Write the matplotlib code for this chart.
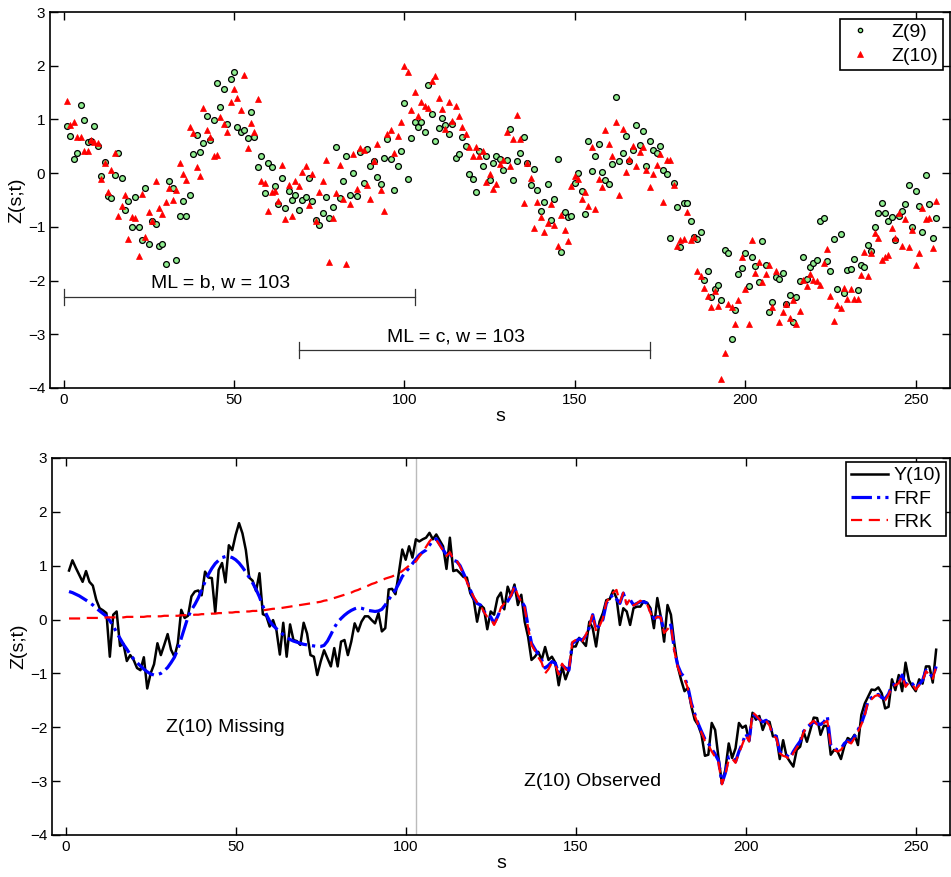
import numpy as np
import matplotlib
matplotlib.use("Agg")
import matplotlib.pyplot as plt

plt.rcParams['font.family'] = ['Liberation Sans', 'DejaVu Sans']

s = np.arange(1, 257)

z9 = [0.88, 0.70, 0.27, 0.37, 1.27, 0.99, 0.58, 0.60, 0.88, 0.51,
      -0.06, 0.21, -0.42, -0.47, -0.03, 0.38, -0.09, -0.69, -0.51, -1.00,
      -0.45, -1.00, -1.25, -0.28, -1.31, -0.90, -0.94, -1.35, -1.32, -1.69,
      -0.15, -0.28, -1.62, -0.80, -0.52, -0.79, -0.41, 0.36, 0.71, 0.39,
      0.56, 1.07, 0.61, 0.99, 1.68, 1.23, 1.57, 0.91, 1.75, 1.89,
      0.85, 0.77, 0.80, 0.66, 1.14, 0.68, 0.11, 0.32, -0.37, 0.18,
      0.12, -0.24, -0.58, -0.09, -0.64, -0.33, -0.50, -0.40, -0.69, -0.50,
      -0.45, -0.09, -0.51, -0.87, -0.97, -0.74, -0.44, -0.84, -0.63, 0.49,
      -0.46, -0.14, 0.31, -0.41, 0.00, -0.42, 0.39, -0.19, 0.45, 0.13,
      0.22, -0.07, -0.20, 0.29, 0.63, 0.26, -0.31, 0.14, 0.42, 1.31,
      -0.11, 0.66, 0.96, 0.85, 0.95, 0.77, 1.64, 1.10, 0.59, 0.84,
      1.03, 0.90, 0.73, 0.91, 0.29, 0.35, 0.68, 0.50, -0.01, -0.10,
      -0.35, 0.42, 0.13, 0.31, -0.12, 0.18, 0.31, 0.26, 0.05, 0.24,
      0.83, -0.12, 0.23, 0.37, 0.68, 0.18, -0.23, 0.08, -0.31, -0.71,
      -0.54, -0.21, -0.87, -0.49, 0.26, -1.47, -0.73, -0.82, -0.79, -0.19,
      0.00, -0.33, -0.76, 0.60, 0.04, 0.31, 0.55, 0.02, -0.12, -0.21,
      0.17, 1.42, 0.23, 0.37, 0.70, 0.22, 0.43, 0.90, 0.52, 0.78,
      0.14, 0.60, 0.43, 0.38, 0.51, 0.05, -0.02, -1.21, -0.19, -0.63,
      -1.37, -0.56, -0.56, -0.89, -1.18, -1.23, -1.10, -1.99, -1.82, -2.30,
      -2.15, -2.08, -2.36, -1.43, -1.48, -3.08, -2.55, -1.87, -1.77, -1.49,
      -2.10, -1.57, -1.72, -2.03, -1.26, -1.71, -2.59, -2.40, -1.94, -1.98,
      -1.85, -2.44, -2.27, -2.77, -2.31, -2.01, -1.56, -1.97, -1.75, -1.68,
      -1.61, -0.90, -0.83, -1.64, -1.82, -1.23, -2.15, -1.13, -2.24, -1.81,
      -1.79, -1.60, -2.18, -1.71, -1.74, -1.34, -1.45, -1.00, -0.74, -0.56,
      -0.74, -0.90, -0.82, -1.25, -0.80, -0.70, -0.58, -0.23, -1.00, -0.33,
      -0.61, -1.10, -0.03, -0.57, -1.21, -0.83]

z10 = [1.35, 0.89, 0.96, 0.68, 0.68, 0.41, 0.42, 0.62, 0.58, 0.56,
       -0.10, 0.18, -0.35, 0.06, 0.37, -0.80, -0.62, -0.40, -1.23, -0.82,
       -0.84, -1.54, -0.38, -1.19, -0.73, -0.89, -0.15, -0.65, -0.76, -0.53,
       -0.28, -0.50, -0.32, 0.19, -0.01, -0.12, 0.86, 0.75, 0.12, -0.05,
       1.21, 0.80, 0.67, 0.32, 0.34, 1.05, 0.91, 0.76, 1.33, 1.56,
       1.40, 1.17, 1.83, 0.47, 0.93, 0.77, 1.38, -0.15, -0.19, -0.70,
       -0.36, -0.34, -0.51, 0.15, -0.86, -0.23, -0.79, -0.15, -0.24, 0.03,
       0.14, -0.59, -0.01, -0.90, -0.35, -0.15, 0.25, -1.66, -0.83, -0.37,
       0.16, -0.49, -1.70, -0.58, 0.35, -0.30, 0.47, 0.43, -0.22, -0.49,
       0.22, 0.55, -0.31, -0.70, 0.72, 0.80, 0.38, 0.69, 0.95, 1.99,
       1.89, 1.17, 1.52, 1.06, 1.32, 1.25, 1.21, 1.72, 1.81, 1.39,
       1.20, 0.82, 1.33, 0.97, 1.25, 1.06, 0.86, 0.73, 0.49, 0.31,
       0.48, 0.31, 0.42, -0.16, -0.01, -0.30, -0.21, 0.17, 0.25, 0.76,
       0.13, 0.63, 1.09, 0.63, -0.56, 0.19, -0.09, -1.03, -0.53, -0.81,
       -1.09, -0.92, -0.57, -0.97, -1.35, -0.77, -1.05, -1.27, -0.24, -0.06,
       -0.11, -0.49, -0.36, -0.61, 0.48, -0.67, -0.10, -0.26, 0.81, 0.54,
       0.32, 0.96, -0.41, 0.82, 0.03, 0.27, 0.50, 0.13, 0.40, 0.49,
       0.06, -0.25, -0.02, 0.16, 0.36, -0.54, 0.24, 0.24, -0.22, -1.35,
       -1.25, -1.23, -0.72, -1.25, -1.18, -1.82, -1.92, -2.13, -2.28, -2.49,
       -2.20, -2.47, -3.83, -3.34, -2.44, -2.49, -2.80, -2.36, -1.56, -2.15,
       -2.80, -1.25, -1.85, -1.65, -2.03, -1.88, -1.71, -2.49, -1.82, -2.77,
       -2.58, -2.44, -2.69, -2.36, -2.80, -2.56, -1.99, -2.10, -1.88, -1.99,
       -2.00, -2.08, -1.68, -1.42, -2.29, -2.75, -2.46, -2.52, -2.13, -2.35,
       -2.15, -2.35, -2.34, -1.90, -1.46, -1.92, -1.49, -1.12, -1.20, -1.62,
       -1.57, -1.53, -1.02, -1.21, -0.74, -1.36, -0.85, -1.38, -1.05, -1.71,
       -1.49, -0.64, -0.85, -0.84, -1.40, -0.51]

y10 = [0.91, 1.10, 0.96, 0.83, 0.70, 0.90, 0.70, 0.63, 0.37, 0.21,
       0.17, 0.12, -0.69, 0.09, 0.15, -0.49, -0.45, -0.77, -0.66, -0.75,
       -0.90, -0.94, -0.70, -1.28, -1.00, -0.83, -0.44, -0.66, -0.47, -0.27,
       -0.56, -0.69, -0.44, 0.18, 0.03, 0.07, 0.43, 0.52, 0.54, 0.45,
       0.89, 0.78, 0.77, 0.13, 0.92, 1.05, 0.69, 1.38, 1.29, 1.57,
       1.79, 1.60, 1.29, 0.78, 0.72, 0.53, 0.86, 0.10, 0.07, -0.13,
       -0.01, -0.20, -0.65, -0.06, -0.69, -0.09, -0.38, -0.40, -0.47, -0.06,
       -0.26, -0.66, -0.69, -1.03, -0.78, -0.57, -0.72, -0.87, -0.53, -0.87,
       -0.41, -0.38, -0.66, -0.41, -0.07, -0.22, -0.04, 0.06, 0.06, -0.01,
       -0.07, 0.12, -0.22, -0.16, 0.56, 0.57, 0.47, 0.87, 1.30, 1.11,
       1.36, 1.15, 1.49, 1.45, 1.49, 1.52, 1.61, 1.49, 1.58, 1.47,
       1.36, 0.94, 1.52, 0.90, 0.92, 0.86, 0.79, 0.78, 0.49, 0.37,
       -0.04, 0.27, 0.21, -0.18, 0.15, 0.09, 0.40, 0.50, 0.19, 0.61,
       0.44, 0.65, 0.27, 0.46, -0.04, -0.32, -0.75, -0.69, -0.60, -0.75,
       -0.51, -0.75, -0.69, -0.80, -1.22, -0.87, -1.11, -0.93, -0.50, -0.50,
       -0.34, -0.41, -0.49, -0.04, -0.16, -0.50, -0.04, 0.12, 0.36, 0.38,
       0.54, 0.40, -0.10, 0.21, 0.15, -0.10, 0.21, 0.24, 0.24, 0.34,
       0.31, 0.21, -0.16, 0.40, 0.06, -0.41, 0.27, 0.09, -0.44, -0.87,
       -1.12, -1.33, -1.27, -1.61, -1.86, -1.96, -2.14, -2.53, -2.51, -1.92,
       -2.05, -2.57, -3.04, -2.79, -2.30, -2.57, -2.39, -1.92, -2.01, -1.97,
       -2.26, -1.73, -1.86, -1.79, -2.05, -1.88, -1.90, -2.17, -2.16, -2.59,
       -2.24, -2.54, -2.64, -2.73, -2.42, -2.36, -2.08, -2.27, -2.05, -1.82,
       -1.83, -2.14, -1.97, -1.98, -2.51, -2.42, -2.45, -2.59, -2.35, -2.20,
       -2.24, -2.14, -2.33, -1.77, -1.56, -1.43, -1.30, -1.31, -1.26, -1.37,
       -1.65, -1.62, -1.11, -1.31, -1.03, -1.33, -0.80, -1.13, -1.24, -1.33,
       -1.11, -1.19, -0.87, -0.87, -1.17, -0.56]

frf = [0.52, 0.50, 0.47, 0.44, 0.40, 0.36, 0.32, 0.27, 0.21, 0.16,
       0.11, 0.06, -0.02, -0.12, -0.24, -0.35, -0.46, -0.55, -0.65, -0.73,
       -0.80, -0.86, -0.92, -0.97, -1.01, -1.03, -1.02, -1.00, -0.95, -0.89,
       -0.80, -0.70, -0.55, -0.35, -0.15, 0.05, 0.18, 0.28, 0.40, 0.55,
       0.70, 0.84, 0.95, 1.04, 1.10, 1.15, 1.17, 1.17, 1.15, 1.11,
       1.05, 0.97, 0.88, 0.78, 0.68, 0.56, 0.42, 0.25, 0.10, -0.03,
       -0.11, -0.17, -0.22, -0.28, -0.33, -0.37, -0.40, -0.42, -0.44, -0.46,
       -0.47, -0.48, -0.49, -0.50, -0.50, -0.48, -0.40, -0.28, -0.15, -0.05,
       0.02, 0.08, 0.13, 0.17, 0.20, 0.22, 0.21, 0.19, 0.17, 0.16,
       0.15, 0.16, 0.19, 0.27, 0.37, 0.46, 0.55, 0.67, 0.80, 0.88,
       0.96, 1.04, 1.12, 1.20, 1.25, 1.29, 1.38, 1.47, 1.50, 1.40,
       1.30, 1.20, 1.23, 1.10, 1.08, 1.00, 0.86, 0.72, 0.55, 0.40,
       0.30, 0.27, 0.15, 0.08, 0.05, -0.07, 0.05, 0.20, 0.28, 0.34,
       0.45, 0.59, 0.43, 0.35, 0.24, -0.13, -0.44, -0.55, -0.65, -0.75,
       -0.90, -0.85, -0.78, -0.81, -1.00, -0.85, -0.90, -0.94, -0.44, -0.40,
       -0.36, -0.38, -0.30, -0.15, 0.09, -0.19, -0.10, 0.00, 0.30, 0.40,
       0.46, 0.38, 0.30, 0.49, 0.30, 0.37, 0.27, 0.30, 0.33, 0.33,
       0.30, 0.15, 0.02, 0.05, 0.05, -0.23, -0.15, -0.10, -0.55, -0.85,
       -1.00, -1.07, -1.25, -1.55, -1.75, -1.93, -2.08, -2.22, -2.30, -2.40,
       -2.50, -2.62, -3.04, -2.85, -2.55, -2.55, -2.64, -2.45, -2.30, -2.12,
       -2.24, -1.75, -1.80, -1.85, -1.90, -1.87, -1.95, -2.14, -2.17, -2.45,
       -2.51, -2.52, -2.57, -2.45, -2.35, -2.26, -2.08, -2.00, -1.95, -1.90,
       -1.93, -1.95, -1.90, -1.80, -2.33, -2.39, -2.42, -2.40, -2.30, -2.25,
       -2.27, -2.17, -2.05, -1.93, -1.75, -1.50, -1.45, -1.41, -1.39, -1.45,
       -1.47, -1.38, -1.22, -1.20, -1.16, -1.03, -1.22, -1.15, -1.19, -1.28,
       -1.20, -1.13, -0.94, -1.00, -1.07, -0.87]

frk = [0.02, 0.02, 0.02, 0.02, 0.02, 0.03, 0.03, 0.03, 0.03, 0.03,
       0.03, 0.04, 0.04, 0.04, 0.04, 0.04, 0.04, 0.05, 0.05, 0.05,
       0.05, 0.05, 0.05, 0.06, 0.06, 0.06, 0.06, 0.06, 0.07, 0.07,
       0.07, 0.07, 0.07, 0.08, 0.08, 0.08, 0.08, 0.09, 0.09, 0.10,
       0.10, 0.10, 0.11, 0.11, 0.12, 0.12, 0.12, 0.13, 0.13, 0.14,
       0.14, 0.15, 0.15, 0.15, 0.16, 0.16, 0.17, 0.17, 0.18, 0.19,
       0.20, 0.20, 0.21, 0.22, 0.23, 0.24, 0.25, 0.26, 0.27, 0.28,
       0.29, 0.30, 0.31, 0.32, 0.33, 0.35, 0.36, 0.38, 0.40, 0.42,
       0.44, 0.46, 0.48, 0.50, 0.53, 0.55, 0.58, 0.60, 0.63, 0.66,
       0.68, 0.71, 0.73, 0.76, 0.78, 0.80, 0.83, 0.86, 0.90, 0.95,
       1.00, 1.04, 1.08, 1.17, 1.25, 1.35, 1.45, 1.52, 1.48, 1.38,
       1.28, 1.18, 1.25, 1.12, 1.10, 0.98, 0.84, 0.70, 0.55, 0.42,
       0.32, 0.27, 0.14, 0.05, 0.02, -0.10, 0.03, 0.22, 0.30, 0.36,
       0.45, 0.62, 0.45, 0.33, 0.22, -0.15, -0.47, -0.58, -0.70, -0.80,
       -1.00, -0.92, -0.80, -0.84, -1.02, -0.82, -0.92, -0.96, -0.42, -0.38,
       -0.36, -0.40, -0.28, -0.12, 0.10, -0.22, -0.12, 0.02, 0.32, 0.42,
       0.50, 0.55, 0.32, 0.50, 0.28, 0.38, 0.26, 0.30, 0.35, 0.32,
       0.28, 0.12, 0.00, 0.05, 0.04, -0.25, -0.18, -0.12, -0.58, -0.88,
       -1.05, -1.10, -1.28, -1.58, -1.78, -1.95, -2.10, -2.25, -2.33, -2.45,
       -2.55, -2.66, -3.06, -2.88, -2.60, -2.58, -2.66, -2.48, -2.32, -2.15,
       -2.26, -1.72, -1.78, -1.85, -1.92, -1.88, -1.97, -2.16, -2.20, -2.48,
       -2.53, -2.55, -2.60, -2.48, -2.38, -2.28, -2.10, -1.98, -1.93, -1.88,
       -1.95, -1.97, -1.92, -1.88, -2.35, -2.42, -2.45, -2.42, -2.33, -2.27,
       -2.30, -2.20, -2.08, -1.95, -1.78, -1.52, -1.48, -1.42, -1.40, -1.48,
       -1.50, -1.40, -1.24, -1.22, -1.18, -1.05, -1.25, -1.17, -1.20, -1.30,
       -1.22, -1.15, -0.96, -1.02, -1.10, -0.88]

# annotation spans (start, end, y) and texts
ml_spans = [(0, 103, -2.3), (69, 172, -3.3)]
ml_texts = [("ML = b, w = 103", 46, -2.05), ("ML = c, w = 103", 115, -3.05)]
cut = 103

fig = plt.figure(figsize=(9.51, 8.77), dpi=100)
ax1 = fig.add_axes([0.0526, 0.5576, 0.946, 0.4287])
ax2 = fig.add_axes([0.0547, 0.0479, 0.944, 0.4299])

ax1.plot(s, z9, 'o', ms=4.2, mfc='#90EE90', mec='black', mew=0.9, label='Z(9)')
ax1.plot(s, z10, '^', ms=5, mfc='red', mec='red', mew=0.5, label='Z(10)')
for a, b, yy in ml_spans:
    ax1.plot([a, b], [yy, yy], color='#333333', lw=0.9)
    ax1.plot([a, a], [yy - 0.15, yy + 0.15], color='#333333', lw=0.9)
    ax1.plot([b, b], [yy - 0.15, yy + 0.15], color='#333333', lw=0.9)
for txt, xx, yy in ml_texts:
    ax1.text(xx, yy, txt, fontsize=14, ha='center', va='center')
leg1 = ax1.legend(loc='upper right', fontsize=14, fancybox=False, edgecolor='black',
                  framealpha=1, handlelength=1.6, borderpad=0.25, handletextpad=0.8,
                  labelspacing=0.3, borderaxespad=0.35, markerscale=0.75)
leg1.get_frame().set_linewidth(1.2)

ax2.axvline(cut, color='#bbbbbb', lw=1)
ax2.plot(s, y10, color='black', lw=1.8, label='Y(10)')
ax2.plot(s, frf, color='blue', lw=2.3, ls='-.', label='FRF')
ax2.plot(s, frk, color='red', lw=1.6, ls=(0, (5, 3)), label='FRK')
ax2.text(47, -2.0, "Z(10) Missing", fontsize=14, ha='center', va='center')
ax2.text(155, -3.0, "Z(10) Observed", fontsize=14, ha='center', va='center')
leg2 = ax2.legend(loc='upper right', fontsize=14, fancybox=False, edgecolor='black',
                  framealpha=1, handlelength=1.9, borderpad=0.25, handletextpad=0.25,
                  labelspacing=0.3, borderaxespad=0.2)
leg2.get_frame().set_linewidth(1.2)

for ax in (ax1, ax2):
    ax.set_xlim(-4, 260)
    ax.set_ylim(-4, 3)
    ax.set_xticks([0, 50, 100, 150, 200, 250])
    ax.set_yticks(range(-4, 4))
    ax.tick_params(direction='in', top=True, right=True, length=6, width=1, labelsize=11)
    ax.set_xlabel('s', fontsize=14, labelpad=1)
    ax.set_ylabel('Z(s;t)', fontsize=14, labelpad=2)
    for sp in ax.spines.values():
        sp.set_linewidth(1.2)

fig.savefig('out.png', dpi=100)
